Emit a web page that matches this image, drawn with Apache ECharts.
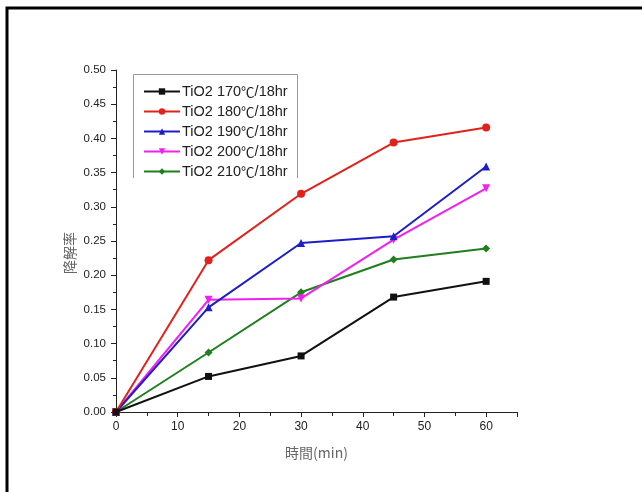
<!DOCTYPE html>
<html>
<head>
<meta charset="utf-8">
<script src="https://cdn.jsdelivr.net/npm/echarts@6/dist/echarts.min.js"></script>
<style>
  html, body { margin: 0; padding: 0; background: #fff; }
  #chart { width: 642px; height: 492px; }
</style>
</head>
<body>
<div id="chart"></div>
<script>
// Sampling times (min)
const times = [0, 15, 30, 45, 60];

// Degradation ratio for each hydrothermal condition
const seriesNames = ['TiO2 170℃/18hr', 'TiO2 180℃/18hr', 'TiO2 190℃/18hr', 'TiO2 200℃/18hr', 'TiO2 210℃/18hr'];
const tio2_170 = [0, 0.052, 0.082, 0.168, 0.191];
const tio2_180 = [0, 0.222, 0.319, 0.394, 0.416];
const tio2_190 = [0, 0.153, 0.247, 0.257, 0.359];
const tio2_200 = [0, 0.164, 0.166, 0.252, 0.327];
const tio2_210 = [0, 0.087, 0.175, 0.223, 0.239];

const xTitle = '時間(min)';
const yTitle = '降解率';

const colors = ['#111111', '#e3211c', '#1e1ec8', '#f020f0', '#1f7f1f'];
const symbols = ['rect', 'circle', 'triangle', 'triangle', 'diamond'];
const rotations = [0, 0, 0, 180, 0];
const allValues = [tio2_170, tio2_180, tio2_190, tio2_200, tio2_210];

const font = '"Liberation Sans", Arial, sans-serif';
const cjk = '"Noto Sans CJK TC", "Liberation Sans", sans-serif';

const chart = echarts.init(document.getElementById('chart'), null, { renderer: 'canvas' });

const series = allValues.map((vals, i) => ({
  name: seriesNames[i],
  type: 'line',
  data: times.map((t, j) => [t, vals[j]]),
  symbol: symbols[i],
  symbolSize: i === 0 ? 7 : 8,
  symbolRotate: rotations[i],
  showSymbol: true,
  lineStyle: { color: colors[i], width: 2 },
  itemStyle: { color: colors[i] },
  z: 10 - i,
  animation: false
}));

// legend labels: the degree-Celsius sign is set in the CJK face
const legendFormatter = name => {
  const parts = name.split('℃');
  return '{a|' + parts[0] + '}{b|℃}{a|' + parts[1] + '}';
};

chart.setOption({
  animation: false,
  backgroundColor: '#ffffff',
  grid: { left: 116, top: 70, right: 125, bottom: 80 },
  legend: {
    left: 138,
    top: 79,
    orient: 'vertical',
    itemGap: 5,
    itemWidth: 36,
    itemHeight: 8,
    data: seriesNames.map((n, i) => ({ name: n, symbolRotate: rotations[i] })),
    formatter: legendFormatter,
    textStyle: {
      fontFamily: font, fontSize: 14, color: '#222', padding: [0, 0, 0, -3],
      rich: {
        a: { fontFamily: font, fontSize: 14.5, color: '#222', height: 16 },
        b: { fontFamily: cjk, fontSize: 13.5, color: '#222', height: 16 }
      }
    },
    selectedMode: false
  },
  xAxis: {
    type: 'value',
    min: 0,
    max: 65,
    interval: 10,
    name: xTitle,
    nameLocation: 'middle',
    nameGap: 34,
    nameTextStyle: { fontFamily: cjk, fontSize: 14, color: '#666' },
    axisLine: { show: true, onZero: false, lineStyle: { color: '#222', width: 1 } },
    axisTick: { show: true, inside: false, length: 5, lineStyle: { color: '#222' } },
    minorTick: { show: true, splitNumber: 2, length: 4, lineStyle: { color: '#222' } },
    axisLabel: {
      fontFamily: font, fontSize: 12, color: '#222', margin: 9,
      showMaxLabel: false,
      formatter: v => (v % 10 === 0 ? String(v) : '')
    },
    splitLine: { show: false }
  },
  yAxis: {
    type: 'value',
    min: 0,
    max: 0.5,
    interval: 0.05,
    axisLine: { show: true, lineStyle: { color: '#222', width: 1 } },
    axisTick: { show: true, inside: false, length: 5, lineStyle: { color: '#222' } },
    minorTick: { show: true, splitNumber: 2, length: 3, lineStyle: { color: '#222' } },
    axisLabel: {
      fontFamily: font, fontSize: 11.5, color: '#222', margin: 10,
      formatter: v => v.toFixed(2)
    },
    splitLine: { show: false }
  },
  graphic: [
    {
      // outer page frame (left and top edges visible)
      type: 'rect',
      shape: { x: 7, y: 8, width: 700, height: 600 },
      style: { fill: 'none', stroke: '#000', lineWidth: 3 },
      silent: true
    },
    {
      // legend box, open at the bottom
      type: 'polyline',
      shape: { points: [[133.5, 178], [133.5, 74.5], [297.5, 74.5], [297.5, 178]] },
      style: { fill: 'none', stroke: '#999', lineWidth: 1 },
      silent: true
    },
    {
      // y-axis title, rotated
      type: 'text',
      x: 70,
      y: 253,
      rotation: Math.PI / 2,
      style: {
        text: yTitle,
        fontFamily: cjk,
        fontSize: 14,
        fill: '#666',
        align: 'center',
        verticalAlign: 'middle'
      },
      silent: true
    }
  ],
  series: series
});
</script>
</body>
</html>
